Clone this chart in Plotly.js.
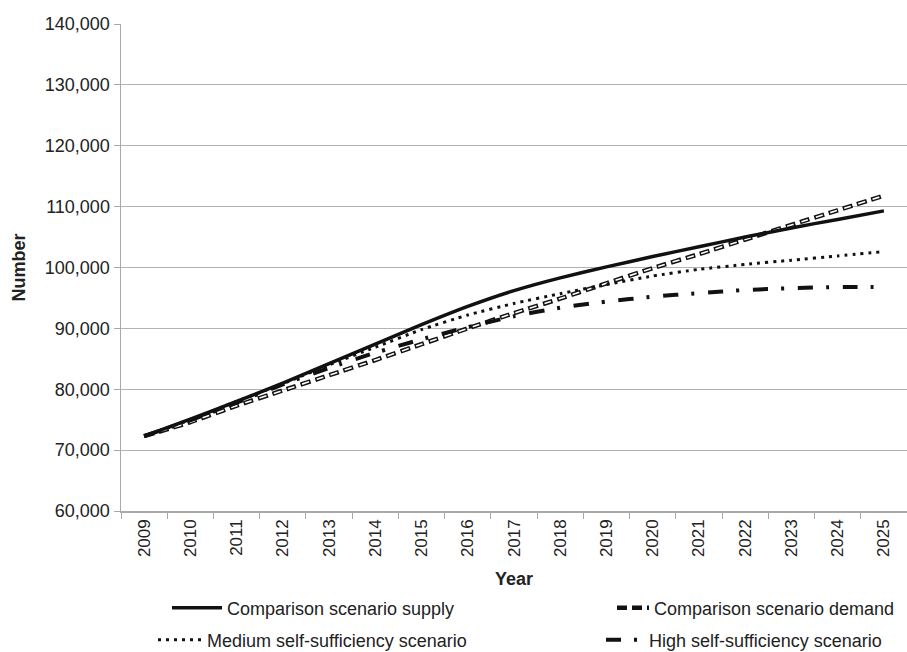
<!DOCTYPE html>
<html>
<head>
<meta charset="utf-8">
<script src="https://cdn.plot.ly/plotly-3.0.1.min.js"></script>
<style>html,body{margin:0;padding:0;background:#fff;}#chart{width:907px;height:652px;}</style>
</head>
<body>
<div id="chart"></div>
<script>
var years = ["2009","2010","2011","2012","2013","2014","2015","2016","2017","2018","2019","2020","2021","2022","2023","2024","2025"];
var supply = [72300, 75100, 78000, 81000, 84200, 87400, 90600, 93600, 96200, 98300, 100100, 101800, 103400, 105000, 106500, 107900, 109300];
var demand = [72300, 74600, 77300, 79800, 82300, 84800, 87400, 90000, 92500, 94900, 97400, 99900, 102200, 104600, 107000, 109400, 111800];
var medium = [72300, 75000, 78000, 80900, 84000, 86900, 89800, 92200, 94100, 95700, 97200, 98600, 99700, 100500, 101200, 101900, 102600];
var high = [72300, 74900, 77800, 80800, 83500, 86000, 88200, 90200, 92000, 93400, 94400, 95200, 95800, 96300, 96600, 96800, 96800];
var names = ["Comparison scenario supply", "Comparison scenario demand", "Medium self-sufficiency scenario", "High self-sufficiency scenario"];

var FONT = "Liberation Sans, Arial, Helvetica, sans-serif";
var TXT = "#222";
var traces = [
  {x: years, y: demand, name: names[1], mode: "lines", legend: "legend2",
   line: {color: "#111", width: 4.5, dash: "10px,5px", shape: "spline", smoothing: 0.5}},
  {x: years, y: demand, name: names[1], mode: "lines", showlegend: false,
   line: {color: "#fff", width: 1.6, dash: "0px,1.5px,7px,6.5px", shape: "spline", smoothing: 0.5}},
  {x: years, y: high, name: names[3], mode: "lines", legend: "legend4",
   line: {color: "#111", width: 4, dash: "15px,13px,3px,14px", shape: "spline", smoothing: 0.5}},
  {x: years, y: medium, name: names[2], mode: "lines", legend: "legend3",
   line: {color: "#111", width: 3, dash: "3px,5px", shape: "spline", smoothing: 0.5}},
  {x: years, y: supply, name: names[0], mode: "lines", legend: "legend",
   line: {color: "#111", width: 3.5, shape: "spline", smoothing: 0.5}}
];

function leg(x, y, iw) {
  return {
    orientation: "h", x: x, xanchor: "left", xref: "container",
    y: y, yanchor: "middle", yref: "container",
    itemwidth: iw,
    font: {size: 18, family: FONT, color: TXT}, bgcolor: "rgba(0,0,0,0)"
  };
}

var layout = {
  width: 907, height: 652,
  margin: {l: 121, r: 0, t: 24, b: 141},
  paper_bgcolor: "#fff", plot_bgcolor: "#fff",
  font: {family: FONT, size: 17, color: TXT},
  showlegend: true,
  xaxis: {
    type: "category", range: [-0.5, 16.5], autorange: false,
    tickangle: -90,
    ticks: "outside", tickson: "boundaries", ticklen: 6, tickcolor: "#aaa",
    showline: true, linecolor: "#aaa", linewidth: 1.5,
    showgrid: false, zeroline: false,
    tickfont: {size: 17, family: FONT, color: TXT},
    title: {text: "<b>Year</b>", font: {size: 18, family: FONT, color: TXT}, standoff: 20}
  },
  yaxis: {
    range: [60000, 140000], dtick: 10000, tickformat: ",",
    ticks: "outside", ticklen: 6, tickcolor: "#aaa",
    showline: true, linecolor: "#aaa", linewidth: 1.5,
    showgrid: true, gridcolor: "#b3b3b3", gridwidth: 1.2,
    zeroline: false,
    tickfont: {size: 18, family: FONT, color: TXT},
    title: {text: "<b>Number</b>", font: {size: 18, family: FONT, color: TXT}, standoff: 14}
  },
  legend: leg(167 / 907, 1 - 608 / 652, 50),
  legend2: leg(612 / 907, 1 - 608 / 652, 32),
  legend3: leg(153 / 907, 1 - 640 / 652, 44),
  legend4: leg(601 / 907, 1 - 640 / 652, 38)
};

Plotly.newPlot("chart", traces, layout, {displayModeBar: false, staticPlot: true});
</script>
</body>
</html>
